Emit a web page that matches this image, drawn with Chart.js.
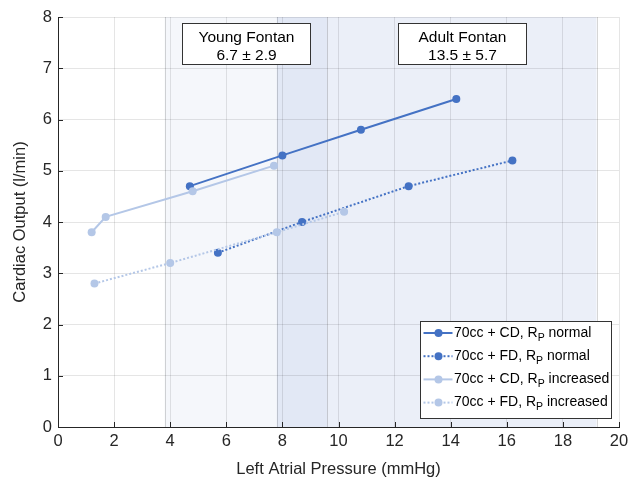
<!DOCTYPE html>
<html>
<head>
<meta charset="utf-8">
<script src="https://cdn.jsdelivr.net/npm/chart.js@4/dist/chart.umd.min.js"></script>
<style>
html,body{margin:0;padding:0;background:#fff;}
#wrap{width:630px;height:482px;}
</style>
</head>
<body>
<div id="wrap"><canvas id="c" width="630" height="482"></canvas></div>
<script>
// ---- data ----
const seriesLabels = ["70cc + CD, R|P| normal", "70cc + FD, R|P| normal", "70cc + CD, R|P| increased", "70cc + FD, R|P| increased"];
const cdNormalX = [4.7, 8.0, 10.8, 14.2];
const cdNormalY = [4.7, 5.3, 5.8, 6.4];
const fdNormalX = [5.7, 8.7, 12.5, 16.2];
const fdNormalY = [3.4, 4.0, 4.7, 5.2];
const cdIncX = [1.2, 1.7, 4.8, 7.7];
const cdIncY = [3.8, 4.1, 4.6, 5.1];
const fdIncX = [1.3, 4.0, 7.8, 10.2];
const fdIncY = [2.8, 3.2, 3.8, 4.2];
const xTicks = [0, 2, 4, 6, 8, 10, 12, 14, 16, 18, 20];
const yTicks = [0, 1, 2, 3, 4, 5, 6, 7, 8];
const regionNames = ["Young Fontan", "Adult Fontan"];
const regionMeans = [6.7, 13.5];
const regionSDs = [2.9, 5.7];

const DARK = "#4472c4", LIGHT = "#b4c7e7";
const FONT = "'Liberation Sans', Arial, Helvetica, sans-serif";

function pts(xs, ys){ return xs.map((x,i)=>({x:x, y:ys[i]})); }

const datasets = [
  {label: seriesLabels[0], data: pts(cdNormalX, cdNormalY), borderColor: DARK, backgroundColor: DARK, borderDash: [], order: 3},
  {label: seriesLabels[1], data: pts(fdNormalX, fdNormalY), borderColor: DARK, backgroundColor: DARK, borderDash: [2,2], order: 2},
  {label: seriesLabels[2], data: pts(cdIncX, cdIncY), borderColor: LIGHT, backgroundColor: LIGHT, borderDash: [], order: 1},
  {label: seriesLabels[3], data: pts(fdIncX, fdIncY), borderColor: LIGHT, backgroundColor: LIGHT, borderDash: [2,2], order: 0}
].map(d => Object.assign({showLine: true, borderWidth: 2, pointRadius: 4, pointHoverRadius: 4, pointBorderWidth: 0, tension: 0, fill: false}, d));

const regionPlugin = {
  id: 'regions',
  beforeDraw(chart){
    const {ctx, chartArea: a, scales: {x}} = chart;
    ctx.save();
    const alphas = [0.05, 0.1];
    regionMeans.forEach((m, i) => {
      const x0 = x.getPixelForValue(m - regionSDs[i]);
      const x1 = x.getPixelForValue(m + regionSDs[i]);
      ctx.fillStyle = `rgba(55,95,185,${alphas[i]})`;
      ctx.fillRect(x0, a.top, x1 - x0, a.bottom - a.top);
    });
    ctx.restore();
  },
  beforeDatasetsDraw(chart){
    const {ctx, chartArea: a, scales: {x}} = chart;
    ctx.save();
    ctx.strokeStyle = 'rgba(0,0,0,0.16)';
    ctx.lineWidth = 1;
    regionMeans.forEach((m, i) => {
      [m - regionSDs[i], m + regionSDs[i]].forEach(v => {
        const px = Math.round(x.getPixelForValue(v)) + 0.5;
        ctx.beginPath(); ctx.moveTo(px, a.top); ctx.lineTo(px, a.bottom); ctx.stroke();
      });
    });
    ctx.restore();
  }
};

const annoPos = [ {x: 6.72, y: 7.88}, {x: 14.42, y: 7.88} ];
const annoPlugin = {
  id: 'annos',
  afterDatasetsDraw(chart){
    const {ctx, scales: {x, y}} = chart;
    ctx.save();
    annoPos.forEach((p, i) => {
      const cx = x.getPixelForValue(p.x);
      const top = Math.round(y.getPixelForValue(p.y)) + 0.5;
      const w = 128, h = 41;
      const left = Math.round(cx - w/2) + 0.5;
      ctx.fillStyle = '#fff';
      ctx.fillRect(left, top, w, h);
      ctx.strokeStyle = '#333';
      ctx.lineWidth = 1;
      ctx.strokeRect(left, top, w, h);
      ctx.fillStyle = '#000';
      ctx.font = `15.5px ${FONT}`;
      ctx.textAlign = 'center';
      ctx.textBaseline = 'alphabetic';
      ctx.fillText(regionNames[i], cx, top + 18);
      ctx.fillText(`${regionMeans[i]} \u00B1 ${regionSDs[i]}`, cx, top + 36.5);
    });
    ctx.restore();
  }
};

const tickPlugin = {
  id: 'inticks',
  afterDraw(chart){
    const {ctx, chartArea: a, scales: {x, y}} = chart;
    ctx.save();
    ctx.strokeStyle = '#262626';
    ctx.lineWidth = 1;
    xTicks.forEach(v => {
      const px = Math.round(x.getPixelForValue(v)) + 0.5;
      ctx.beginPath(); ctx.moveTo(px, a.bottom); ctx.lineTo(px, a.bottom - 5); ctx.stroke();
    });
    yTicks.forEach(v => {
      const py = Math.round(y.getPixelForValue(v)) + 0.5;
      ctx.beginPath(); ctx.moveTo(a.left, py); ctx.lineTo(a.left + 5, py); ctx.stroke();
    });
    ctx.restore();
  }
};

const legendPlugin = {
  id: 'mylegend',
  afterDraw(chart){
    const {ctx, chartArea: a} = chart;
    const right = a.right - 8, bottom = a.bottom - 9;
    const w = 191, h = 97;
    const left = Math.round(right - w) + 0.5, top = Math.round(bottom - h) + 0.5;
    ctx.save();
    ctx.fillStyle = '#fff';
    ctx.fillRect(left, top, w, h);
    ctx.strokeStyle = '#333';
    ctx.lineWidth = 1;
    ctx.strokeRect(left, top, w, h);
    chart.data.datasets.forEach((ds, i) => {
      const cy = top + 11.5 + i * 23.2;
      ctx.strokeStyle = ds.borderColor;
      ctx.lineWidth = 2;
      ctx.setLineDash(ds.borderDash);
      ctx.beginPath(); ctx.moveTo(left + 3, cy); ctx.lineTo(left + 32, cy); ctx.stroke();
      ctx.setLineDash([]);
      ctx.fillStyle = ds.backgroundColor;
      ctx.beginPath(); ctx.arc(left + 18, cy, 4, 0, Math.PI * 2); ctx.fill();
      const parts = ds.label.split('|');
      let tx = left + 33.5;
      ctx.fillStyle = '#000';
      ctx.textAlign = 'left';
      ctx.textBaseline = 'middle';
      ctx.font = `14px ${FONT}`;
      ctx.fillText(parts[0], tx, cy); tx += ctx.measureText(parts[0]).width;
      ctx.font = `10.5px ${FONT}`;
      ctx.fillText(parts[1], tx, cy + 5); tx += ctx.measureText(parts[1]).width;
      ctx.font = `14px ${FONT}`;
      ctx.fillText(parts[2], tx, cy);
    });
    ctx.restore();
  }
};

new Chart(document.getElementById('c'), {
  type: 'scatter',
  data: { datasets },
  plugins: [regionPlugin, annoPlugin, tickPlugin, legendPlugin],
  options: {
    responsive: false,
    animation: false,
    events: [],
    layout: { padding: { top: 17, right: 11, left: 0, bottom: 0 } },
    plugins: { legend: { display: false }, tooltip: { enabled: false } },
    scales: {
      x: {
        type: 'linear', min: 0, max: 20,
        afterBuildTicks(s){ s.ticks = xTicks.map(v => ({value: v})); },
        afterFit(s){ s.height = 55; s.paddingRight = 0; s.paddingLeft = 0; },
        ticks: { color: '#262626', font: { family: FONT, size: 16.5 }, padding: 5, maxRotation: 0 },
        grid: { color: 'rgba(0,0,0,0.1)', drawTicks: false },
        border: { display: true, color: '#262626', width: 1 },
        title: { display: true, text: 'Left Atrial Pressure (mmHg)', color: '#262626', font: { family: FONT, size: 16.5 }, padding: { top: 4, bottom: 3 } }
      },
      y: {
        type: 'linear', min: 0, max: 8,
        afterBuildTicks(s){ s.ticks = yTicks.map(v => ({value: v})); },
        afterFit(s){ s.width = 58; s.paddingTop = 0; s.paddingBottom = 0; },
        ticks: { color: '#262626', font: { family: FONT, size: 16.5 }, padding: 6 },
        grid: { color: 'rgba(0,0,0,0.1)', drawTicks: false },
        border: { display: true, color: '#262626', width: 1 },
        title: { display: true, text: 'Cardiac Output (l/min)', color: '#262626', font: { family: FONT, size: 16.5 }, padding: { top: 11, bottom: 4 } }
      }
    }
  }
});
</script>
</body>
</html>
